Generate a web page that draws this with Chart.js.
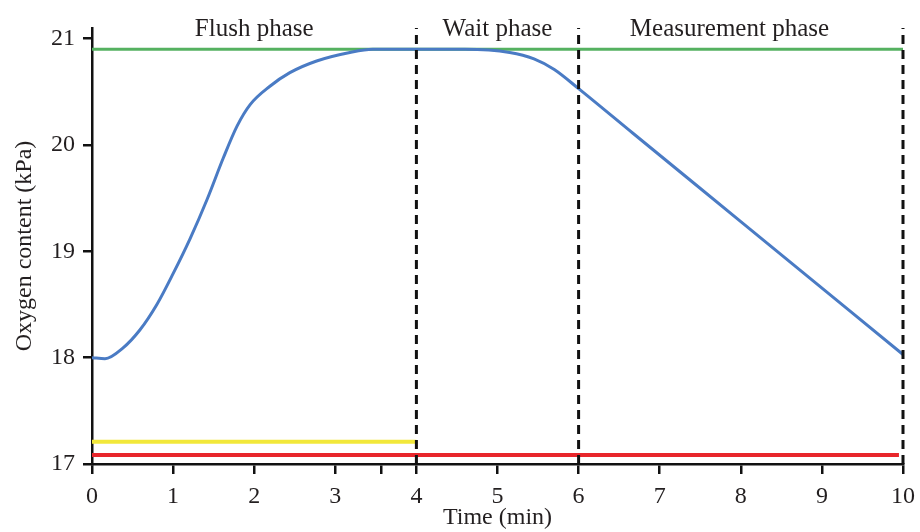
<!DOCTYPE html>
<html>
<head>
<meta charset="utf-8">
<script src="https://cdn.jsdelivr.net/npm/chart.js@4/dist/chart.umd.min.js"></script>
<style>
  html, body { margin: 0; padding: 0; background: #fff; }
  #wrap { width: 920px; height: 532px; }
</style>
</head>
<body>
<div id="wrap"><canvas id="grafico"></canvas></div>
<script>
// Dados
const tempoMin = [0, 0.16, 0.38, 0.59, 0.8, 1.0, 1.21, 1.42, 1.62, 1.79, 1.95, 2.19, 2.44, 2.77, 3.18, 3.46, 4.0, 4.6, 5.15, 5.45, 5.7, 6.0, 6.67, 8.0, 10.0];
const oxigenioKPa = [18.0, 17.99, 18.09, 18.26, 18.5, 18.79, 19.12, 19.49, 19.88, 20.18, 20.38, 20.55, 20.68, 20.79, 20.87, 20.9, 20.9, 20.9, 20.87, 20.81, 20.71, 20.53, 20.11, 19.28, 18.03];

// Linhas de referência horizontais: [x inicial, x final, nível]
const linhaVerde = [0, 10, 20.9];
const linhaAmarela = [0, 4, 17.21];
const linhaVermelha = [0, 9.95, 17.085];

// Limites das fases (linhas tracejadas)
const limitesFase = [4, 6, 10];
const nomesFase = ["Flush phase", "Wait phase", "Measurement phase"];
const centrosFase = [2.0, 5.0, 7.86];

const ticksX = [0, 1, 2, 3, 3.57, 4, 5, 6, 7, 8, 9, 10];
const ticksY = [17, 18, 19, 20, 21];
const yMin = 17, yMax = 21.1;

const fonte = "'Liberation Serif', 'Times New Roman', serif";
const corTexto = "#231f20";

function horizontal(l) {
  return [{ x: l[0], y: l[2] }, { x: l[1], y: l[2] }];
}

const datasets = [];

// Linhas tracejadas verticais
limitesFase.forEach(x => {
  datasets.push({
    data: [{ x: x, y: yMin }, { x: x, y: yMax }],
    borderColor: "#111",
    borderWidth: 3,
    borderDash: [9, 6],
    pointRadius: 0,
    clip: false
  });
});

datasets.push({
  data: tempoMin.map((t, i) => ({ x: t, y: oxigenioKPa[i] })),
  borderColor: "#4a7bc4",
  borderWidth: 3,
  cubicInterpolationMode: "monotone",
  pointRadius: 0
});

datasets.push({ data: horizontal(linhaVerde), borderColor: "#55b160", borderWidth: 3, pointRadius: 0 });
datasets.push({ data: horizontal(linhaAmarela), borderColor: "#f2e83a", borderWidth: 4, pointRadius: 0 });
datasets.push({ data: horizontal(linhaVermelha), borderColor: "#e8262b", borderWidth: 4, pointRadius: 0 });

// Rótulos das fases no topo
const rotulosFase = {
  id: "rotulosFase",
  afterDraw(chart) {
    const ctx = chart.ctx;
    const sx = chart.scales.x;
    ctx.save();
    ctx.font = "25px " + fonte;
    ctx.fillStyle = corTexto;
    ctx.textAlign = "center";
    ctx.textBaseline = "alphabetic";
    nomesFase.forEach((nome, i) => {
      ctx.fillText(nome, sx.getPixelForValue(centrosFase[i]), 36);
    });
    ctx.restore();
  }
};

new Chart(document.getElementById("grafico"), {
  type: "line",
  data: { datasets },
  options: {
    responsive: true,
    maintainAspectRatio: false,
    animation: false,
    layout: { padding: { top: 28, right: 17, left: 0, bottom: 0 } },
    plugins: { legend: { display: false }, tooltip: { enabled: false } },
    scales: {
      x: {
        type: "linear",
        min: 0,
        max: 10,
        afterBuildTicks: s => { s.ticks = ticksX.map(v => ({ value: v })); },
        afterFit: s => { s.height = 68; s.paddingLeft = 0; s.paddingRight = 0; },
        border: { display: true, color: "#111", width: 2.5 },
        grid: { drawOnChartArea: false, color: "#111", lineWidth: 2.5, tickLength: 10 },
        ticks: {
          color: corTexto,
          font: { family: fonte, size: 24 },
          padding: 8,
          maxRotation: 0,
          autoSkip: false,
          callback: v => (Number.isInteger(v) ? String(v) : "")
        },
        title: {
          display: true,
          text: "Time (min)",
          color: corTexto,
          font: { family: fonte, size: 24 },
          padding: { top: -10, bottom: 0 }
        }
      },
      y: {
        type: "linear",
        min: yMin,
        max: yMax,
        afterBuildTicks: s => { s.ticks = ticksY.map(v => ({ value: v })); },
        afterFit: s => { s.width = 92; },
        border: { display: true, color: "#111", width: 2.5 },
        grid: { drawOnChartArea: false, color: "#111", lineWidth: 2.5, tickLength: 9 },
        ticks: {
          color: corTexto,
          font: { family: fonte, size: 24 },
          padding: 8,
          callback: v => String(v)
        },
        title: {
          display: true,
          text: "Oxygen content (kPa)",
          color: corTexto,
          font: { family: fonte, size: 24 },
          padding: { top: 10, bottom: 0 }
        }
      }
    }
  },
  plugins: [rotulosFase]
});
</script>
</body>
</html>
